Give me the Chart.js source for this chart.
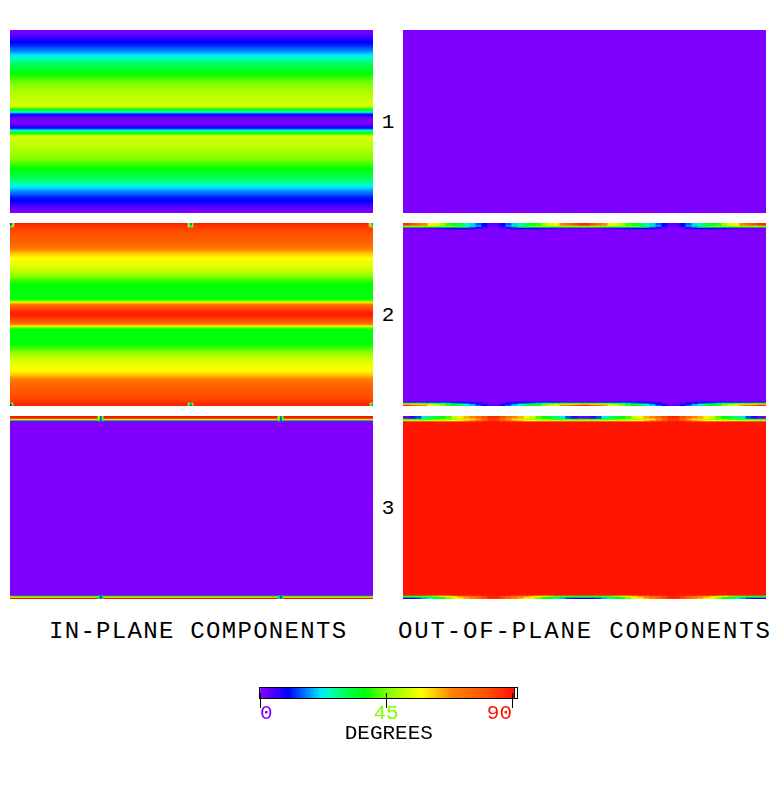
<!DOCTYPE html>
<html><head><meta charset="utf-8">
<style>
html,body{margin:0;padding:0;background:#fff;overflow:hidden}
body{width:776px;height:789px;position:relative}
canvas{position:absolute;display:block}
.t{position:absolute;font-family:"Liberation Mono",monospace;color:#000;white-space:pre;line-height:1}
.title{font-size:24px}
.num{font-size:21px;width:22px;text-align:center;left:377px}
</style>
<script src="https://cdn.jsdelivr.net/npm/chart.js@4"></script>
</head><body>
<canvas id="l1" width="363" height="183" style="left:10px;top:30px"></canvas>
<canvas id="r1" width="363" height="183" style="left:403px;top:30px"></canvas>
<canvas id="l2" width="363" height="183" style="left:10px;top:223px"></canvas>
<canvas id="r2" width="363" height="183" style="left:403px;top:223px"></canvas>
<canvas id="l3" width="363" height="183" style="left:10px;top:416px"></canvas>
<canvas id="r3" width="363" height="183" style="left:403px;top:416px"></canvas>
<canvas id="bar" width="320" height="66" style="left:230px;top:680px"></canvas>
<div class="t num" style="top:112px">1</div>
<div class="t num" style="top:305px">2</div>
<div class="t num" style="top:498px">3</div>
<div class="t title" style="left:49px;top:620px;letter-spacing:1.3px">IN-PLANE COMPONENTS</div>
<div class="t title" style="left:398px;top:620px;letter-spacing:1.85px">OUT-OF-PLANE COMPONENTS</div>
<script>
// Colour scale (degrees to colour)
const stopDegrees = [0, 9.5, 21, 24, 29, 37, 45, 57, 68, 80, 90];
const stopColors = [[128,0,255],[0,0,255],[0,230,255],[0,255,190],[0,255,100],[0,255,0],[128,255,0],[255,255,0],[255,130,0],[255,80,0],[255,20,0]];
const colorbarTicks = [0, 45, 90];
const colorbarTickColors = ['#8000ff', '#80ff00', '#ff1400'];
const colorbarSteps = [0,1,2,3,4,5,6,7,8,9,10,11,12,13,14,15,16,17,18,19,20,21,22,23,24,25,26,27,28,29,30,31,32,33,34,35,36,37,38,39,40,41,42,43,44,45,46,47,48,49,50,51,52,53,54,55,56,57,58,59,60,61,62,63,64,65,66,67,68,69,70,71,72,73,74,75,76,77,78,79,80,81,82,83,84,85,86,87,88,89,90];

// Row profiles, degrees, top row first
const l1Rows = [0,1,1,2,2,3,4,5,6,7,8,9,9.5,10,10.5,11,12,13,14,15,15.5,16.5,17.5,19,20,21,22,23,24,25,26,27,28,29,30,31,31.5,32,32.5,33,34,35,36,37,37.5,38,39,40,41,41.5,42.5,43,44,45,45.5,46,46.5,47,47.5,48,48,48.5,49,49.5,50,50,50.5,51,51,51.5,52,52,52.5,52.5,53,53,53,50,42,36,31,27,24,16,10,7,5,3,2,1,1,
0,
1,1,2,3,5,7,10,16,24,27,31,36,42,50,53,53,53,52.5,52.5,52,52,51.5,51,51,50.5,50,50,49.5,49,48.5,48,48,47.5,47,46.5,46,45.5,45,44,43,42.5,41.5,41,40,39,38,37.5,37,36,35,34,33,32.5,32,31.5,31,30,29,28,27,26,25,24,23,22,21,20,19,17.5,16.5,15.5,15,14,13,12,11,10.5,10,9.5,9,8,7,6,5,4,3,2,2,1,1,0];
const l2Rows = [88,87,86,85,84,83,82,81,81,80,80,79,79,78,78,78,77,77,76,76,75,74,73,72,71,70,69,67,65,64,62,61,60,59,58,57,56.5,56,56,55.5,55.5,55,55,54,53.5,53,52,51.5,51,50,49,48,47,46,45,43,42,41,40,39,38,37.5,37,36.5,36,36,36,36,36,36,36,36,36,36,36.5,37,38,41,45,55,63,70,73,76,78,80,82,84,86,87,88,
89,
88,87,86,84,82,80,78,76,73,70,63,55,45,41,38,37,36.5,36,36,36,36,36,36,36,36,36,36,36.5,37,37.5,38,39,40,41,42,43,45,46,47,48,49,50,51,51.5,52,53,53.5,54,55,55,55.5,55.5,56,56,56.5,57,58,59,60,61,62,64,65,67,69,70,71,72,73,74,75,76,76,77,77,78,78,78,79,79,80,80,81,81,82,83,84,85,86,87,88];

// Uniform bulk values and the rows that differ from them
const r1Bulk = 0, r2Bulk = 0, l3Bulk = 0, r3Bulk = 90;
const l3TopRows = [90,90,90,55,35];
const l3BottomRows = [35,55,90];

// Edge strips of the out-of-plane panels, degrees by column
const r2Top0 = [86,80,74,68,58,53,47,40,36,31,25,20,14,9,3,3,9,14,20,25,31,36,40,47,53,58,68,74,80,86,86,80,74,68,58,53,47,40,36,31,25,20,14,9,3,3,9,14,20,25,31,36,40,47,53,58,68,74,80,86,86];
const r2Top1 = [50,50,50,50,50,50,48,46,44,40,35,30,20,10,2,2,10,20,30,35,40,44,46,48,50,50,50,50,50,50,50,50,50,50,50,50,48,46,44,40,35,30,20,10,2,2,10,20,30,35,40,44,46,48,50,50,50,50,50,50,50];
const r2Top2 = [36,36,36,36,36,34,33,32,30,28,24,16,9,4,1,1,4,9,16,24,28,30,32,33,34,36,36,36,36,36,36,36,36,36,36,34,33,32,30,28,24,16,9,4,1,1,4,9,16,24,28,30,32,33,34,36,36,36,36,36,36];
const r2Top3 = [3,3,3,4,5,6,7,8,9,10,9,7,4,2,0,0,2,4,7,9,10,9,8,7,6,5,4,3,3,3,3,3,3,4,5,6,7,8,9,10,9,7,4,2,0,0,2,4,7,9,10,9,8,7,6,5,4,3,3,3,3];
const r2Bottom0 = [6,6,6,7,8,9,10,10,10,9,7,5,3,1,0,0,1,3,5,7,9,10,10,10,9,8,7,6,6,6,6,6,6,7,8,9,10,10,10,9,7,5,3,1,0,0,1,3,5,7,9,10,10,10,9,8,7,6,6,6,6];
const r2Bottom1 = [32,32,31,30,28,26,24,20,16,14,12,10,7,3,1,1,3,7,10,12,14,16,20,24,26,28,30,31,32,32,32,32,31,30,28,26,24,20,16,14,12,10,7,3,1,1,3,7,10,12,14,16,20,24,26,28,30,31,32,32,32];
const r2Bottom2 = [60,58,55,52,48,44,40,36,33,28,22,16,10,5,1,1,5,10,16,22,28,33,36,40,44,48,52,55,58,60,60,58,55,52,48,44,40,36,33,28,22,16,10,5,1,1,5,10,16,22,28,33,36,40,44,48,52,55,58,60,60];
const r2Bottom3 = [86,80,74,68,58,53,47,40,36,31,25,20,14,9,3,3,9,14,20,25,31,36,40,47,53,58,68,74,80,86,86,80,74,68,58,53,47,40,36,31,25,20,14,9,3,3,9,14,20,25,31,36,40,47,53,58,68,74,80,86,86];
const r3Top0 = [2,6,13,22,28,33,37,42,52,58,64,68,74,80,87,87,80,74,68,64,58,52,42,37,33,28,22,13,6,2,2,6,13,22,28,33,37,42,52,58,64,68,74,80,87,87,80,74,68,64,58,52,42,37,33,28,22,13,6,2,2];
const r3Top1 = [36,37,38,38,39,40,42,44,46,48,52,57,63,70,80,80,70,63,57,52,48,46,44,42,40,39,38,38,37,36,36,37,38,38,39,40,42,44,46,48,52,57,63,70,80,80,70,63,57,52,48,46,44,42,40,39,38,38,37,36,36];
const r3Top2 = [50,50,51,51,52,52,53,54,56,58,62,66,72,78,85,85,78,72,66,62,58,56,54,53,52,52,51,51,50,50,50,50,51,51,52,52,53,54,56,58,62,66,72,78,85,85,78,72,66,62,58,56,54,53,52,52,51,51,50,50,50];
const r3Bottom0 = [40,41,42,43,45,50,56,60,64,68,72,76,80,84,88,88,84,80,76,72,68,64,60,56,50,45,43,42,41,40,40,41,42,43,45,50,56,60,64,68,72,76,80,84,88,88,84,80,76,72,68,64,60,56,50,45,43,42,41,40,40];
const r3Bottom1 = [30,30,32,34,36,38,42,50,57,62,68,72,76,82,87,87,82,76,72,68,62,57,50,42,38,36,34,32,30,30,30,30,32,34,36,38,42,50,57,62,68,72,76,82,87,87,82,76,72,68,62,57,50,42,38,36,34,32,30,30,30];
const r3Bottom2 = [8,9,12,18,24,32,37,44,52,58,64,68,74,80,87,87,80,74,68,64,58,52,44,37,32,24,18,12,9,8,8,9,12,18,24,32,37,44,52,58,64,68,74,80,87,87,80,74,68,64,58,52,44,37,32,24,18,12,9,8,8];

// Small defects of the in-plane panels, degrees, by row then one-wide column
const l2TopLeftDefect = [[10,24,45,62],[10,24,45,62],[14,28,45,62],[35,45,62,70]];
const l2TopMidDefect = [[50,30,8,30,50],[45,24,10,24,45],[45,28,14,28,45],[62,45,35,45,62]];
const l2TopRightDefect = [[62,45,24,10],[62,45,24,10],[62,45,28,14],[70,62,45,35]];
const l2BottomLeftDefect = [[40,45,62],[12,30,45],[10,20,40]];
const l2BottomMidDefect = [[62,40,36,40,62],[45,30,12,30,45],[40,20,10,20,40]];
const l2BottomRightDefect = [[62,45,40],[45,30,12],[40,20,10]];
const l3TopDefect = [[50,35,12,35,50],[50,35,12,35,50],[50,30,10,30,50],[45,24,10,24,45],[36,20,8,20,36]];
const l3BottomDefect = [[35,20,10,20,35],[35,15,10,15,35],[36,30,10,30,36]];

function colorFor(v){
  let i = 0;
  while(i < stopDegrees.length-2 && v > stopDegrees[i+1]) i++;
  const t = Math.min(1, Math.max(0, (v-stopDegrees[i])/(stopDegrees[i+1]-stopDegrees[i])));
  const c = stopColors[i].map((a,k)=>Math.round(a+(stopColors[i+1][k]-a)*t));
  return `rgb(${c[0]},${c[1]},${c[2]})`;
}

const ROWS = 183, WIDTH = 363, COL = 6;
const rowLabels = Array.from({length:ROWS},(_,i)=>String(i));

function panel(id, cfg){
  const baseData = [], baseColor = [];
  for(let r=0;r<ROWS;r++){
    let v = cfg.bulk;
    if(cfg.profile) v = cfg.profile[r];
    if(cfg.topRows && r<cfg.topRows.length) v = cfg.topRows[r];
    if(cfg.bottomRows && r>=ROWS-cfg.bottomRows.length) v = cfg.bottomRows[r-(ROWS-cfg.bottomRows.length)];
    baseData.push([0,WIDTH]); baseColor.push(colorFor(v));
  }
  const datasets = [{data:baseData, backgroundColor:baseColor, order:10}];
  const strips = cfg.strips || [];
  if(strips.length){
    const n = strips[0].values.length;
    for(let c=0;c<n;c++){
      const data = new Array(ROWS).fill(null), color = new Array(ROWS).fill('#000');
      strips.forEach(s=>{ data[s.row] = [c*COL,(c+1)*COL]; color[s.row] = colorFor(s.values[c]); });
      datasets.push({data, backgroundColor:color, order:1});
    }
  }
  (cfg.defects||[]).forEach(d=>{
    const w = d.values[0].length;
    for(let c=0;c<w;c++){
      const data = new Array(ROWS).fill(null), color = new Array(ROWS).fill('#000');
      d.values.forEach((rowVals,k)=>{ data[d.row+k] = [d.col+c,d.col+c+1]; color[d.row+k] = colorFor(rowVals[c]); });
      datasets.push({data, backgroundColor:color, order:1});
    }
  });
  datasets.forEach(d=>{ d.borderWidth=0; d.grouped=false; d.barPercentage=1; d.categoryPercentage=1; });
  new Chart(document.getElementById(id),{
    type:'bar',
    data:{labels:rowLabels,datasets},
    options:{
      indexAxis:'y',responsive:false,animation:false,devicePixelRatio:1,events:[],
      layout:{padding:0},
      plugins:{legend:{display:false},tooltip:{enabled:false},title:{display:false}},
      scales:{
        x:{type:'linear',min:0,max:WIDTH,display:false},
        y:{type:'category',display:false,offset:true}
      }
    }
  });
}

panel('l1',{profile:l1Rows});
panel('r1',{bulk:r1Bulk});
panel('l2',{profile:l2Rows,defects:[
  {row:0,col:0,values:l2TopLeftDefect},{row:0,col:178,values:l2TopMidDefect},{row:0,col:359,values:l2TopRightDefect},
  {row:180,col:0,values:l2BottomLeftDefect},{row:180,col:178,values:l2BottomMidDefect},{row:180,col:360,values:l2BottomRightDefect}]});
panel('r2',{bulk:r2Bulk,strips:[
  {row:0,values:r2Top0},{row:1,values:r2Top0},{row:2,values:r2Top0},{row:3,values:r2Top1},{row:4,values:r2Top2},{row:5,values:r2Top3},
  {row:179,values:r2Bottom0},{row:180,values:r2Bottom1},{row:181,values:r2Bottom2},{row:182,values:r2Bottom3}]});
panel('l3',{bulk:l3Bulk,topRows:l3TopRows,bottomRows:l3BottomRows,defects:[
  {row:0,col:88,values:l3TopDefect},{row:0,col:268,values:l3TopDefect},
  {row:180,col:88,values:l3BottomDefect},{row:180,col:268,values:l3BottomDefect}]});
panel('r3',{bulk:r3Bulk,strips:[
  {row:0,values:r3Top0},{row:1,values:r3Top0},{row:2,values:r3Top0},{row:3,values:r3Top1},{row:4,values:r3Top2},
  {row:180,values:r3Bottom0},{row:181,values:r3Bottom1},{row:182,values:r3Bottom2}]});

// Colour bar
const framePlugin = {
  id:'frame',
  afterDatasetsDraw(chart){
    const {ctx,chartArea:a,scales:{x}} = chart;
    ctx.save();
    ctx.strokeStyle='#000';ctx.lineWidth=1;
    ctx.strokeRect(Math.round(a.left)-0.5,Math.round(a.top)-0.5,Math.round(a.right-a.left),Math.round(a.bottom-a.top)+1);
    ctx.beginPath();
    colorbarTicks.forEach(v=>{
      const px=Math.round(x.getPixelForValue(v))+0.5;
      ctx.moveTo(px,Math.round((a.top+a.bottom)/2));ctx.lineTo(px,a.bottom);
    });
    const endPx=Math.round(x.getPixelForValue(90.6))+0.5;
    ctx.moveTo(endPx,a.top);ctx.lineTo(endPx,a.bottom);
    ctx.stroke();
    ctx.restore();
  }
};
new Chart(document.getElementById('bar'),{
  type:'bar',
  data:{labels:['ramp'],datasets:colorbarSteps.map(v=>({
    data:[[v,v+0.6+0.4*(v<90)]],backgroundColor:colorFor(v),borderWidth:0,grouped:false,barPercentage:1,categoryPercentage:1}))},
  options:{
    indexAxis:'y',responsive:false,animation:false,devicePixelRatio:1,events:[],
    layout:{padding:{left:30,right:32.4,top:8,bottom:0}},
    plugins:{legend:{display:false},tooltip:{enabled:false}},
    scales:{
      x:{type:'linear',min:0,max:92,position:'bottom',
        afterBuildTicks(s){s.ticks=colorbarTicks.map(value=>({value}));},
        afterFit(s){s.height=48;},
        border:{display:false},
        grid:{drawOnChartArea:false,drawTicks:true,tickLength:10,color:'#000',lineWidth:1},
        ticks:{autoSkip:false,maxRotation:0,align:'inner',padding:-7,font:{family:'"Liberation Mono",monospace',size:21},
          color:c=>colorbarTickColors[c.index],callback:v=>String(v)},
        title:{display:true,text:'DEGREES',color:'#000',padding:{top:0,bottom:0},font:{family:'"Liberation Mono",monospace',size:21}}
      },
      y:{type:'category',display:false,offset:true}
    }
  },
  plugins:[framePlugin]
});
</script>
</body></html>
